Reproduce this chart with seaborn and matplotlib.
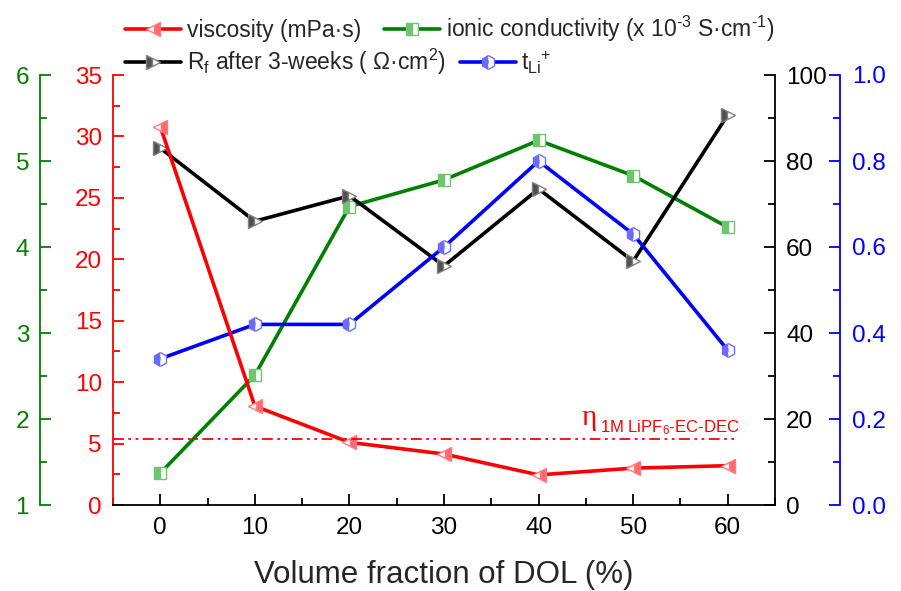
import matplotlib
matplotlib.use("Agg")
import matplotlib.pyplot as plt
from matplotlib.ticker import MultipleLocator
import seaborn as sns
import pandas as pd

# ---- data ----
dol = [0, 10, 20, 30, 40, 50, 60]
viscosity = [30.8, 8.05, 5.1, 4.15, 2.45, 3.0, 3.2]
conductivity = [1.37, 2.51, 4.47, 4.78, 5.24, 4.83, 4.23]
rf = [83.0, 66.0, 71.9, 55.6, 73.5, 56.7, 90.7]
tli = [0.34, 0.42, 0.42, 0.60, 0.80, 0.63, 0.36]
eta_ref = 5.37

lbl_visc = "viscosity (mPa·s)"
lbl_cond = "ionic conductivity (x 10$^{\\text{-3}}$ S·cm$^{\\text{-1}}$)"
lbl_rf = "R$_\\mathregular{f}$ after 3-weeks ( Ω·cm$^\\mathregular{2}$)"
lbl_tli = "t$_\\mathregular{Li}$$^{\\mathregular{+}}$"

df = pd.DataFrame({"dol": dol, "visc": viscosity, "cond": conductivity,
                   "rf": rf, "tli": tli})

sns.set_theme(style="white")
plt.rcParams['font.family'] = ['Liberation Sans', 'DejaVu Sans']
plt.rcParams['mathtext.fontset'] = 'custom'
plt.rcParams['mathtext.rm'] = 'Liberation Sans'
plt.rcParams['mathtext.it'] = 'Liberation Sans:italic'
plt.rcParams['mathtext.bf'] = 'Liberation Sans:bold'

RED, GREEN, BLACK, BLUE = "#ff0000", "#008000", "#000000", "#0000ff"
FS = 17.5
LFS = 16.5

fig = plt.figure(figsize=(9.01, 5.91), dpi=100)
ax = fig.add_axes([113 / 901, 86 / 591, 662 / 901, 430 / 591])
ax_g = ax.twinx()
ax_k = ax.twinx()
ax_b = ax.twinx()

for a in (ax, ax_g, ax_k, ax_b):
    a.patch.set_visible(False)
    for s in a.spines.values():
        s.set_visible(False)
        s.set_linewidth(1.3)

lw = 2.6
ms = 10
sns.lineplot(data=df, x="dol", y="cond", ax=ax_g, color=GREEN, lw=lw,
             marker="s", markersize=ms - 1.5, fillstyle="left",
             markerfacecolor="#6fc46f", markerfacecoloralt="white",
             markeredgecolor="#6fc46f", markeredgewidth=1.0, label=lbl_cond,
             legend=False)
sns.lineplot(data=df, x="dol", y="rf", ax=ax_k, color=BLACK, lw=lw,
             marker=">", markersize=ms, fillstyle="left",
             markerfacecolor="#505050", markerfacecoloralt="white",
             markeredgecolor="#808080", markeredgewidth=1.0, label=lbl_rf,
             legend=False)
sns.lineplot(data=df, x="dol", y="tli", ax=ax_b, color=BLUE, lw=lw,
             marker="h", markersize=ms, fillstyle="left",
             markerfacecolor="#6b6bff", markerfacecoloralt="white",
             markeredgecolor="#6b6bff", markeredgewidth=1.0, label=lbl_tli,
             legend=False)
sns.lineplot(data=df, x="dol", y="visc", ax=ax, color=RED, lw=lw,
             marker="<", markersize=ms, fillstyle="right",
             markerfacecolor="#ff6b6b", markerfacecoloralt="white",
             markeredgecolor="#ff7b7b", markeredgewidth=1.0, label=lbl_visc,
             legend=False)

# reference viscosity line
ax.plot([-5, 61], [eta_ref, eta_ref], color=RED, lw=1.3,
        dashes=[6, 2.5, 1.5, 2.5, 1.5, 2.5])
ax.text(45.4, 6.55, "η", color=RED, fontsize=21, family="Liberation Serif",
        ha="center", va="baseline")
ax.text(46.5, 5.95, "1M LiPF$_\\mathregular{6}$-EC-DEC", color=RED, fontsize=12,
        ha="left", va="baseline")

# put red axis content on top
ax.set_zorder(ax_b.get_zorder() + 1)

# ---- axes configuration ----
ax.set_xlim(-5, 65)
ax.set_ylim(0, 35)
ax_g.set_ylim(1, 6)
ax_k.set_ylim(0, 100)
ax_b.set_ylim(0, 1.0)

ax.spines["left"].set_visible(True)
ax.spines["left"].set_color(RED)
ax.spines["bottom"].set_visible(True)
ax.spines["bottom"].set_color(BLACK)
ax.xaxis.set_major_locator(MultipleLocator(10))
ax.xaxis.set_minor_locator(MultipleLocator(5))
ax.yaxis.set_major_locator(MultipleLocator(5))
ax.yaxis.set_minor_locator(MultipleLocator(2.5))
ax.tick_params(axis="x", which="both", direction="in", bottom=True, top=False,
               colors=BLACK, labelsize=FS, pad=9, width=1.3)
ax.tick_params(axis="x", which="major", length=8)
ax.tick_params(axis="x", which="minor", length=5)
ax.tick_params(axis="y", which="both", direction="in", left=True, right=False,
               colors=RED, labelsize=FS, pad=8, width=1.3)
ax.tick_params(axis="y", which="major", length=8)
ax.tick_params(axis="y", which="minor", length=5)
ax.set_xlabel("Volume fraction of DOL (%)", fontsize=22.5, labelpad=15)
ax.set_ylabel("")

ax_g.spines["left"].set_visible(True)
ax_g.spines["left"].set_position(("axes", -0.110))
ax_g.spines["left"].set_color(GREEN)
ax_g.yaxis.set_ticks_position("left")
ax_g.yaxis.set_label_position("left")
ax_g.yaxis.set_major_locator(MultipleLocator(1))
ax_g.yaxis.set_minor_locator(MultipleLocator(0.5))
ax_g.tick_params(axis="y", which="both", direction="in", colors=GREEN,
                 labelsize=FS, pad=8, width=1.3)
ax_g.tick_params(axis="y", which="major", length=8)
ax_g.tick_params(axis="y", which="minor", length=5)
ax_g.set_ylabel("")

ax_k.spines["right"].set_visible(True)
ax_k.spines["right"].set_color(BLACK)
ax_k.yaxis.set_major_locator(MultipleLocator(20))
ax_k.yaxis.set_minor_locator(MultipleLocator(10))
ax_k.tick_params(axis="y", which="both", direction="in", colors=BLACK,
                 labelsize=FS, pad=8, width=1.3)
ax_k.tick_params(axis="y", which="major", length=8)
ax_k.tick_params(axis="y", which="minor", length=5)
ax_k.set_ylabel("")

ax_b.spines["right"].set_visible(True)
ax_b.spines["right"].set_position(("axes", 1.098))
ax_b.spines["right"].set_color(BLUE)
ax_b.yaxis.set_major_locator(MultipleLocator(0.2))
ax_b.yaxis.set_minor_locator(MultipleLocator(0.1))
ax_b.yaxis.set_major_formatter(matplotlib.ticker.FormatStrFormatter("%.1f"))
ax_b.tick_params(axis="y", which="both", direction="in", colors=BLUE,
                 labelsize=FS, pad=9, width=1.3)
ax_b.tick_params(axis="y", which="major", length=8)
ax_b.tick_params(axis="y", which="minor", length=5)
ax_b.set_ylabel("")

for a in (ax, ax_g, ax_k, ax_b):
    a.grid(False)

# ---- legends (two rows) ----
h_visc = ax.lines[0]
h_cond = ax_g.lines[0]
h_rf = ax_k.lines[0]
h_tli = ax_b.lines[0]
common = dict(loc="center left", frameon=False, fontsize=LFS, ncol=2,
              handlelength=2.45, handletextpad=0.25, borderaxespad=0,
              borderpad=0, numpoints=1)
leg1 = fig.legend([h_visc, h_cond], [lbl_visc, lbl_cond],
                  bbox_to_anchor=(125 / 901, 1 - 29 / 591),
                  columnspacing=1.0, **common)
leg2 = fig.legend([h_rf, h_tli], [lbl_rf, lbl_tli],
                  bbox_to_anchor=(125 / 901, 1 - 62 / 591),
                  columnspacing=0.6, **common)

fig.savefig("out.png", dpi=100)
